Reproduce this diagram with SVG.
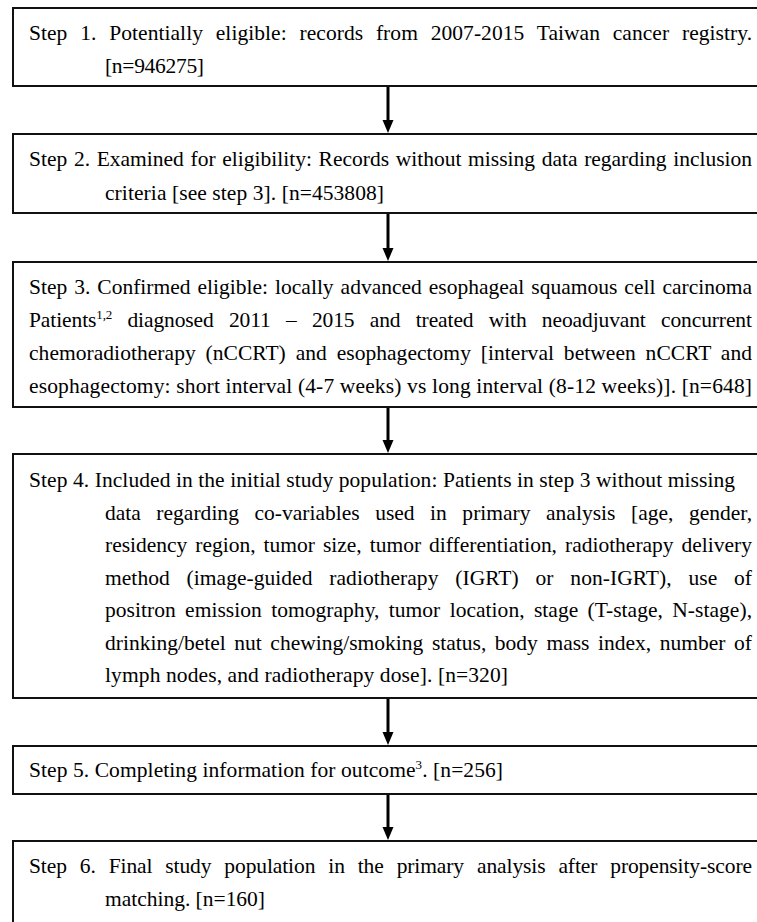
<svg xmlns="http://www.w3.org/2000/svg" width="757" height="922" viewBox="0 0 757 922">
<style>
.box{fill:#fff;stroke:#111;stroke-width:2}
.t{font-family:"Liberation Serif","Times New Roman",serif;font-size:21.5px;fill:#000}
.sup{font-size:13px}
.conn{stroke:#000;stroke-width:3;fill:none}
</style>
<defs>
<marker id="ah" markerUnits="userSpaceOnUse" markerWidth="14" markerHeight="12" refX="1" refY="5.5" orient="auto">
<path d="M0,0 L13,5.5 L0,11 z" fill="#000"/>
</marker>
</defs>
<rect width="757" height="922" fill="#fff"/>
<g id="step1">
<rect class="box" x="13" y="8" width="770" height="78"/>
<text class="t" x="29" y="40" word-spacing="7.4" textLength="723" lengthAdjust="spacing">Step 1. Potentially eligible: records from 2007-2015 Taiwan cancer registry.</text>
<text class="t" x="105" y="73" textLength="99" lengthAdjust="spacing">[n=946275]</text>
</g>
<g id="step2">
<rect class="box" x="13" y="134" width="770" height="79"/>
<text class="t" x="29" y="166" word-spacing="1.3" textLength="723" lengthAdjust="spacing">Step 2. Examined for eligibility: Records without missing data regarding inclusion</text>
<text class="t" x="105" y="200" textLength="279" lengthAdjust="spacing">criteria [see step 3]. [n=453808]</text>
</g>
<g id="step3">
<rect class="box" x="13" y="262" width="770" height="145"/>
<text class="t" x="29" y="294" word-spacing="1.6" textLength="723" lengthAdjust="spacing">Step 3. Confirmed eligible: locally advanced esophageal squamous cell carcinoma</text>
<text class="t" x="29" y="327" word-spacing="10" textLength="723" lengthAdjust="spacing">Patients<tspan class="sup" dy="-8">1,2</tspan><tspan dy="8"> diagnosed 2011 – 2015 and treated with neoadjuvant concurrent</tspan></text>
<text class="t" x="29" y="360" word-spacing="4.4" textLength="723" lengthAdjust="spacing">chemoradiotherapy (nCCRT) and esophagectomy [interval between nCCRT and</text>
<text class="t" x="29" y="393" textLength="723" lengthAdjust="spacing">esophagectomy: short interval (4-7 weeks) vs long interval (8-12 weeks)]. [n=648]</text>
</g>
<g id="step4">
<rect class="box" x="13" y="454" width="770" height="244"/>
<text class="t" x="29" y="487" textLength="706" lengthAdjust="spacing">Step 4. Included in the initial study population: Patients in step 3 without missing</text>
<text class="t" x="105" y="520" word-spacing="10.1" textLength="647" lengthAdjust="spacing">data regarding co-variables used in primary analysis [age, gender,</text>
<text class="t" x="105" y="552" word-spacing="2.6" textLength="647" lengthAdjust="spacing">residency region, tumor size, tumor differentiation, radiotherapy delivery</text>
<text class="t" x="105" y="585" word-spacing="11.4" textLength="647" lengthAdjust="spacing">method (image-guided radiotherapy (IGRT) or non-IGRT), use of</text>
<text class="t" x="105" y="617" word-spacing="3.9" textLength="647" lengthAdjust="spacing">positron emission tomography, tumor location, stage (T-stage, N-stage),</text>
<text class="t" x="105" y="650" word-spacing="3.2" textLength="647" lengthAdjust="spacing">drinking/betel nut chewing/smoking status, body mass index, number of</text>
<text class="t" x="105" y="682" textLength="403" lengthAdjust="spacing">lymph nodes, and radiotherapy dose]. [n=320]</text>
</g>
<g id="step5">
<rect class="box" x="13" y="746" width="770" height="48"/>
<text class="t" x="29" y="777" textLength="474" lengthAdjust="spacing">Step 5. Completing information for outcome<tspan class="sup" dy="-8">3</tspan><tspan dy="8">. [n=256]</tspan></text>
</g>
<g id="step6">
<rect class="box" x="13" y="841" width="770" height="110"/>
<text class="t" x="29" y="873" word-spacing="7.7" textLength="723" lengthAdjust="spacing">Step 6. Final study population in the primary analysis after propensity-score</text>
<text class="t" x="105" y="906" textLength="160" lengthAdjust="spacing">matching. [n=160]</text>
</g>
<g id="connectors">
<line class="conn" x1="388" y1="87" x2="388" y2="121" marker-end="url(#ah)"/>
<line class="conn" x1="388" y1="214" x2="388" y2="249" marker-end="url(#ah)"/>
<line class="conn" x1="388" y1="408" x2="388" y2="441" marker-end="url(#ah)"/>
<line class="conn" x1="388" y1="699" x2="388" y2="733" marker-end="url(#ah)"/>
<line class="conn" x1="388" y1="795" x2="388" y2="828" marker-end="url(#ah)"/>
</g>
</svg>
